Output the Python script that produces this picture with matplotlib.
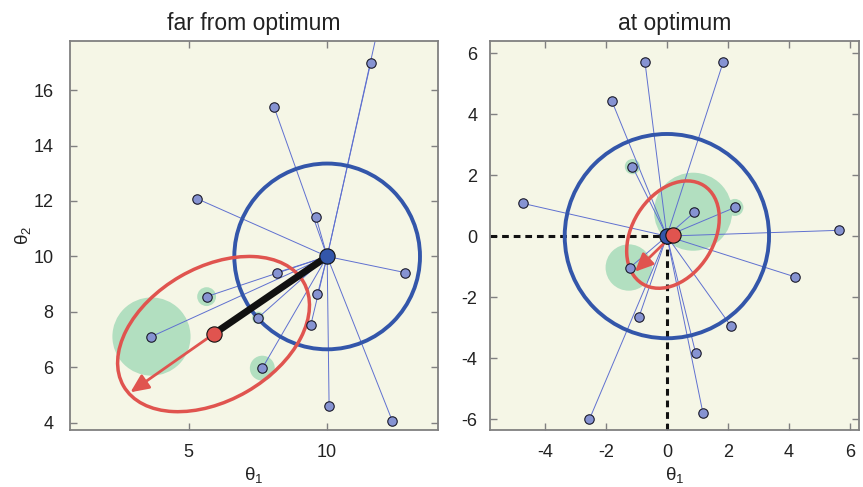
import numpy as np
import matplotlib
matplotlib.use("Agg")
import matplotlib.pyplot as plt
from matplotlib.patches import Circle, Ellipse, FancyArrowPatch

plt.rcParams['font.family'] = ['Liberation Sans', 'DejaVu Sans']
plt.rcParams['mathtext.fontset'] = 'custom'
plt.rcParams['mathtext.rm'] = 'Liberation Sans'
plt.rcParams['mathtext.it'] = 'Liberation Sans'
plt.rcParams['axes.unicode_minus'] = False

# ---------------- data: left panel (far from optimum) ----------------
left_center = (10.0, 10.0)
left_estimate = (5.9, 7.2)
left_arrow_tip = (2.9, 5.1)
left_pts_x = [11.57, 11.85, 8.08, 5.31, 9.60, 8.19, 12.80, 5.65, 9.65, 7.51, 9.41, 3.66, 7.66, 10.07, 12.35]
left_pts_y = [16.98, 18.30, 15.40, 12.08, 11.41, 9.42, 9.42, 8.55, 8.63, 7.79, 7.53, 7.11, 5.97, 4.61, 4.07]
left_green_x = [3.66, 5.65, 7.66, 7.51]
left_green_y = [7.11, 8.55, 5.97, 7.79]
left_green_r = [1.41, 0.34, 0.45, 0.22]
left_circle_r = 3.35
left_ellipse = (7.5, 4.8, 30.0)   # width, height, angle
left_xticks = [5, 10]
left_yticks = [4, 6, 8, 10, 12, 14, 16]
left_xlim = (0.72, 14.0)
left_ylim = (3.74, 17.77)

# ---------------- data: right panel (at optimum) ----------------
right_center = (0.0, 0.0)
right_estimate = (0.2, 0.05)
right_arrow_tip = (-1.05, -1.17)
right_pts_x = [-4.71, -1.80, -0.72, 1.85, -1.13, 0.90, 2.23, 5.64, 4.21, -1.21, -0.91, 2.10, 0.94, -2.54, 1.18]
right_pts_y = [1.07, 4.42, 5.72, 5.72, 2.28, 0.78, 0.94, 0.19, -1.34, -1.03, -2.64, -2.95, -3.82, -6.01, -5.79]
right_green_x = [0.86, -1.25, -1.13, 2.23]
right_green_y = [0.80, -1.03, 2.28, 0.94]
right_green_r = [1.28, 0.76, 0.25, 0.28]
right_circle_r = 3.35
right_ellipse = (3.8, 2.68, 58.0)
right_xticks = [-4, -2, 0, 2, 4, 6]
right_yticks = [-6, -4, -2, 0, 2, 4, 6]
right_xlim = (-5.80, 6.30)
right_ylim = (-6.36, 6.40)

BG = '#f5f6e6'
BLUE = '#3356aa'
RED = '#e0544f'
GREEN = '#b2dfc0'
PT = '#8693d2'
LINE = '#5f70d0'
SPINE = '#808080'

fig = plt.figure(figsize=(8.63, 4.87), dpi=100)
ax1 = fig.add_axes([70/863, 57/487, 368/863, 389/487])
ax2 = fig.add_axes([490/863, 57/487, 369/863, 389/487])


def style(ax, xt, yt, xl, yl, ypad):
    ax.set_facecolor(BG)
    ax.set_xlim(*xl)
    ax.set_ylim(*yl)
    ax.set_xticks(xt)
    ax.set_yticks(yt)
    ax.tick_params(direction='in', length=5, width=1, color=SPINE,
                   top=True, right=True, labelsize=13, labelcolor='#222222')
    ax.tick_params(axis='x', pad=10)
    ax.tick_params(axis='y', pad=ypad)
    for s in ax.spines.values():
        s.set_color(SPINE)
        s.set_linewidth(1.3)


def draw(ax, center, est, tip, px, py, gx, gy, gr, cr, ell, dashed=False):
    for x, y, r in zip(gx, gy, gr):
        ax.add_patch(Circle((x, y), r, facecolor=GREEN, edgecolor='none', zorder=1))
    for x, y in zip(px, py):
        ax.plot([center[0], x], [center[1], y], color=LINE, lw=0.7, zorder=2)
    if dashed:
        ax.plot([ax.get_xlim()[0], center[0]], [center[1], center[1]], color='#111111',
                lw=2.2, ls=(0, (2.2, 1.6)), zorder=2)
        ax.plot([center[0], center[0]], [ax.get_ylim()[0], center[1]], color='#111111',
                lw=2.2, ls=(0, (2.2, 1.6)), zorder=2)
    ax.add_patch(Circle(center, cr, fill=False, edgecolor=BLUE, lw=2.8, zorder=3))
    ax.add_patch(Ellipse(est, ell[0], ell[1], angle=ell[2], fill=False,
                         edgecolor=RED, lw=2.5, zorder=4))
    ax.plot(px, py, 'o', ms=6.8, mfc=PT, mec='#1a1a2a', mew=0.8, zorder=5)
    ax.plot([center[0], est[0]], [center[1], est[1]], color='#111111', lw=5,
            solid_capstyle='butt', zorder=5)
    ax.add_patch(FancyArrowPatch(est, tip, arrowstyle='-|>,head_length=1.1,head_width=0.5',
                                 mutation_scale=10, color=RED, lw=2.0, zorder=6,
                                 shrinkA=0, shrinkB=0))
    ax.plot(*center, 'o', ms=11, mfc=BLUE, mec='#111111', mew=0.8, zorder=7)
    ax.plot(*est, 'o', ms=11, mfc=RED, mec='#111111', mew=0.8, zorder=8)


style(ax1, left_xticks, left_yticks, left_xlim, left_ylim, 12)
style(ax2, right_xticks, right_yticks, right_xlim, right_ylim, 9)
draw(ax1, left_center, left_estimate, left_arrow_tip, left_pts_x, left_pts_y,
     left_green_x, left_green_y, left_green_r, left_circle_r, left_ellipse)
draw(ax2, right_center, right_estimate, right_arrow_tip, right_pts_x, right_pts_y,
     right_green_x, right_green_y, right_green_r, right_circle_r, right_ellipse, dashed=True)

ax1.set_title('far from optimum', fontsize=16.5, color='#222222', pad=8)
ax2.set_title('at optimum', fontsize=16.5, color='#222222', pad=8)
ax1.set_xlabel(r'θ$_1$', fontsize=13.5, color='#222222', labelpad=3)
ax2.set_xlabel(r'θ$_1$', fontsize=13.5, color='#222222', labelpad=3)
ax1.set_ylabel(r'θ$_2$', fontsize=13.5, color='#222222', labelpad=0)

fig.savefig('out.png', dpi=100, facecolor='white')
